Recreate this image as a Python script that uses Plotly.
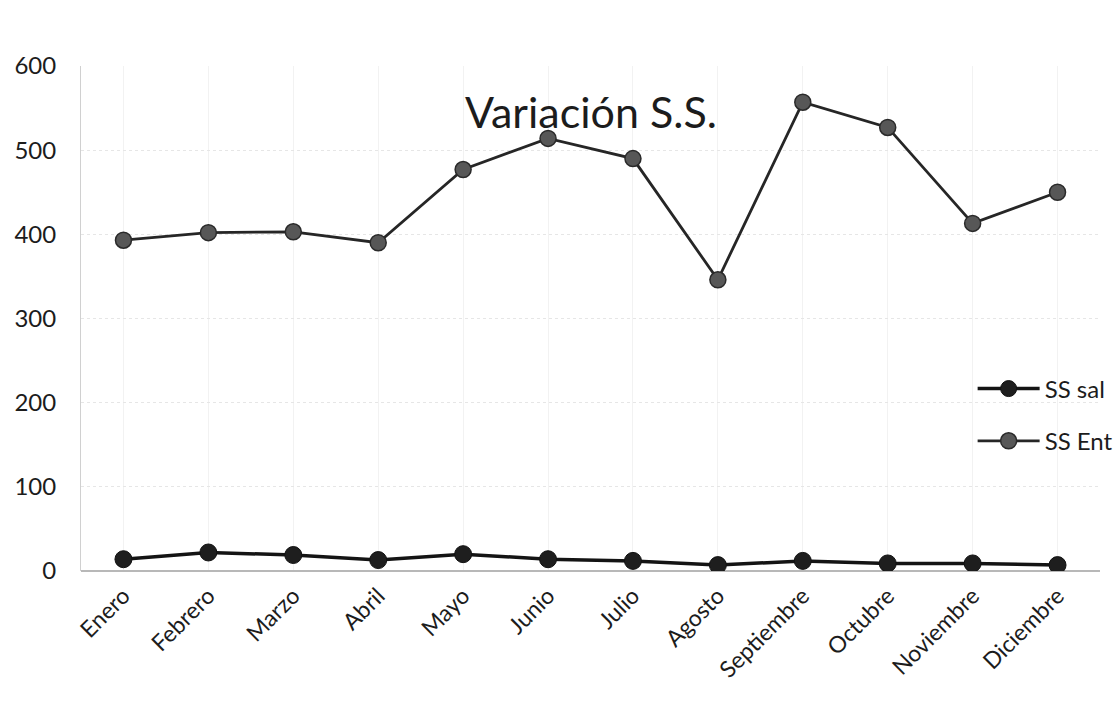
import plotly.graph_objects as go

# Monthly S.S. readings
meses = ["Enero", "Febrero", "Marzo", "Abril", "Mayo", "Junio", "Julio",
         "Agosto", "Septiembre", "Octubre", "Noviembre", "Diciembre"]
ss_sal = [14, 22, 19, 13, 20, 14, 12, 7, 12, 9, 9, 7]
ss_ent = [393, 402, 403, 390, 477, 514, 490, 346, 557, 527, 413, 450]
y_ticks = [0, 100, 200, 300, 400, 500, 600]

FONT = "Lato"
INK = "#1c1c1c"

fig = go.Figure()

fig.add_trace(go.Scatter(
    x=meses, y=ss_sal, name="SS sal", mode="lines+markers",
    line=dict(color="#141414", width=3.5),
    marker=dict(color="#1e1e1e", size=17, line=dict(color="#111111", width=1)),
    legendgroup="a",
))
fig.add_trace(go.Scatter(
    x=meses, y=ss_ent, name="SS Ent", mode="lines+markers",
    line=dict(color="#262626", width=2.8),
    marker=dict(color="#575757", size=16, line=dict(color="#2a2a2a", width=1.5)),
    legendgroup="b",
))

fig.add_annotation(
    text="Variación S.S.", xref="paper", yref="paper", x=0.5, y=0.909,
    xanchor="center", yanchor="middle", showarrow=False,
    font=dict(family=FONT, size=43, color=INK),
)

fig.update_layout(
    width=1120, height=704,
    margin=dict(l=81, r=20, t=66, b=133, autoexpand=False),
    paper_bgcolor="white", plot_bgcolor="white",
    font=dict(family=FONT, color=INK),
    showlegend=True,
    legend=dict(
        x=0.875, y=0.405, xanchor="left", yanchor="top",
        bgcolor="rgba(0,0,0,0)", font=dict(family=FONT, size=24, color=INK),
        tracegroupgap=18, traceorder="grouped", itemwidth=62,
    ),
    xaxis=dict(
        type="category", range=[-0.5, len(meses) - 0.5], automargin=False,
        tickangle=-45, tickfont=dict(size=23, color=INK),
        showgrid=True, gridcolor="#f2f2f2", gridwidth=1,
        showline=False, ticks="", zeroline=False, ticklabelstandoff=6,
    ),
    yaxis=dict(
        range=[0, 600], tickvals=y_ticks, tickfont=dict(size=24, color=INK),
        automargin=False,
        showgrid=True, gridcolor="#e6e6e6", gridwidth=1, griddash="dot",
        zeroline=True, zerolinecolor="#b8b8b8", zerolinewidth=1.5,
        showline=True, linecolor="#d0d0d0", linewidth=1,
        ticks="", ticklabelstandoff=19,
    ),
)

fig.write_html("out.html")
